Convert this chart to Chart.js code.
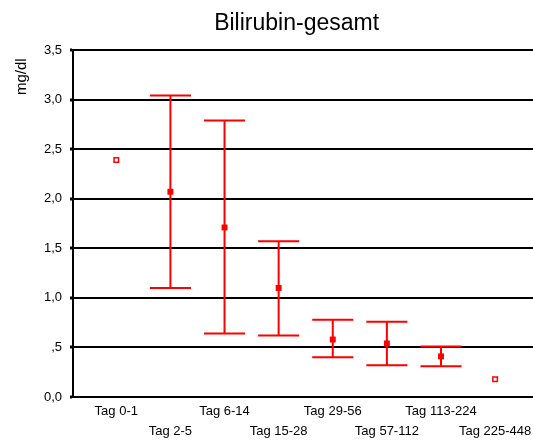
<!DOCTYPE html>
<html>
<head>
<meta charset="utf-8">
<script src="https://cdn.jsdelivr.net/npm/chart.js@4"></script>
<style>
  body { margin: 0; background: #fff; }
  #box { width: 533px; height: 443px; }
</style>
</head>
<body>
<div id="box"><canvas id="myChart"></canvas></div>
<script>
// Werte
var tage = ['Tag 0-1', 'Tag 2-5', 'Tag 6-14', 'Tag 15-28', 'Tag 29-56', 'Tag 57-112', 'Tag 113-224', 'Tag 225-448'];
var mittel = [2.39, 2.07, 1.71, 1.10, 0.58, 0.54, 0.41, 0.18];
var oben = [null, 3.04, 2.79, 1.57, 0.78, 0.76, 0.51, null];
var unten = [null, 1.10, 0.64, 0.62, 0.40, 0.32, 0.31, null];
var yTicks = [0, 0.5, 1, 1.5, 2, 2.5, 3, 3.5];

var rot = '#ff0000';
var kappe = 0.38;

function fehlerbalken() {
    var pts = [];
    for (var i = 0; i < tage.length; i++) {
        if (oben[i] == null) continue;
        var x = i + 1;
        pts.push({x: x, y: unten[i]}, {x: x, y: oben[i]}, {x: x, y: null});
        pts.push({x: x - kappe, y: oben[i]}, {x: x + kappe, y: oben[i]}, {x: x, y: null});
        pts.push({x: x - kappe, y: unten[i]}, {x: x + kappe, y: unten[i]}, {x: x, y: null});
    }
    return pts;
}

function punkte() {
    var pts = [];
    for (var i = 0; i < tage.length; i++) {
        pts.push({x: i + 1, y: mittel[i]});
    }
    return pts;
}

Chart.defaults.font.family = 'Arial, "Liberation Sans", sans-serif';
Chart.defaults.color = '#000';

const config = {
    type: 'scatter',
    data: {
        datasets: [{
            data: fehlerbalken(),
            showLine: true,
            spanGaps: false,
            borderColor: rot,
            borderWidth: 2,
            pointRadius: 0,
            order: 2
        }, {
            data: punkte(),
            pointStyle: 'rect',
            pointRadius: function (c) { return oben[c.dataIndex] == null ? 3.2 : 4.2; },
            backgroundColor: function (c) { return oben[c.dataIndex] == null ? '#fff' : rot; },
            borderColor: rot,
            borderWidth: function (c) { return oben[c.dataIndex] == null ? 1.5 : 0; },
            order: 1
        }]
    },
    options: {
        responsive: true,
        maintainAspectRatio: false,
        animation: false,
        layout: { padding: 0, autoPadding: false },
        plugins: {
            legend: { display: false },
            tooltip: { enabled: false },
            title: {
                display: true,
                text: 'Bilirubin-gesamt  ',
                fullSize: false,
                font: { size: 23, weight: 'normal', lineHeight: 1.2 },
                color: '#000',
                padding: { top: 10, bottom: 12.4 }
            }
        },
        scales: {
            x: {
                type: 'linear',
                min: 0.2,
                max: 8.7,
                afterBuildTicks: function (s) {
                    s.ticks = tage.map(function (t, i) { return {value: i + 1}; });
                },
                afterFit: function (s) {
                    s.height = 46;
                    s.paddingLeft = 0;
                    s.paddingRight = 0;
                },
                ticks: {
                    autoSkip: false,
                    maxRotation: 0,
                    padding: 4,
                    font: { size: 13, lineHeight: 1.54 },
                    callback: function (v) {
                        var i = v - 1;
                        return i % 2 == 0 ? [tage[i]] : ['', tage[i]];
                    }
                },
                grid: { display: false, drawTicks: false },
                border: { display: true, color: '#000', width: 2 }
            },
            y: {
                min: 0,
                max: 3.5,
                afterBuildTicks: function (s) {
                    s.ticks = yTicks.map(function (v) { return {value: v}; });
                },
                afterFit: function (s) {
                    s.width = 73;
                    s.paddingTop = 0;
                    s.paddingBottom = 0;
                },
                ticks: {
                    padding: 8,
                    font: { size: 13 },
                    callback: function (v) {
                        return v == 0.5 ? ',5' : v.toFixed(1).replace('.', ',');
                    }
                },
                grid: {
                    color: '#000',
                    lineWidth: 2,
                    tickLength: 3,
                    tickWidth: 3,
                    tickColor: '#000'
                },
                border: { display: true, color: '#000', width: 2 },
                title: {
                    display: true,
                    text: 'mg/dl  ',
                    align: 'end',
                    font: { size: 15 },
                    padding: { top: 13, bottom: 0 }
                }
            }
        }
    }
};

const myChart = new Chart(document.getElementById('myChart'), config);
</script>
</body>
</html>
